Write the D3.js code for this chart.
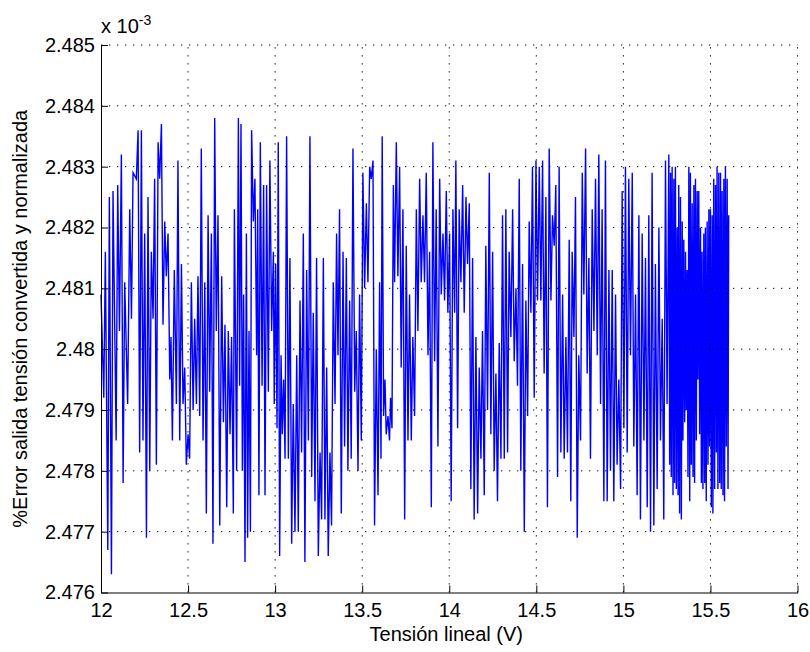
<!DOCTYPE html>
<html>
<head>
<meta charset="utf-8">
<script src="https://cdn.jsdelivr.net/npm/d3@7"></script>
<style>
  body { margin: 0; background: #ffffff; }
  text { font-family: "Liberation Sans", Arial, sans-serif; }
</style>
</head>
<body>
<div id="plot"></div>
<script>
var xTicks = [12, 12.5, 13, 13.5, 14, 14.5, 15, 15.5, 16];
var xTickLabels = ["12", "12.5", "13", "13.5", "14", "14.5", "15", "15.5", "16"];
var yTicks = [2.476, 2.477, 2.478, 2.479, 2.480, 2.481, 2.482, 2.483, 2.484, 2.485];
var yTickLabels = ["2.476", "2.477", "2.478", "2.479", "2.48", "2.481", "2.482", "2.483", "2.484", "2.485"];

// linear voltage (V) for each stroke
var tension = [
  12.000, 12.016, 12.025, 12.039, 12.048, 12.060, 12.069, 12.087, 12.096, 12.106,
  12.117, 12.127, 12.136, 12.153, 12.165, 12.175, 12.184, 12.203, 12.213, 12.222,
  12.232, 12.241, 12.251, 12.261, 12.270, 12.280, 12.289, 12.299, 12.308, 12.318,
  12.328, 12.337, 12.347, 12.356, 12.366, 12.375, 12.385, 12.395, 12.402, 12.410,
  12.421, 12.433, 12.442, 12.452, 12.462, 12.471, 12.481, 12.490, 12.500, 12.509,
  12.519, 12.529, 12.538, 12.548, 12.557, 12.567, 12.576, 12.586, 12.596, 12.605,
  12.615, 12.624, 12.634, 12.643, 12.653, 12.662, 12.672, 12.682,
  12.693, 12.703, 12.712, 12.722, 12.731, 12.741, 12.750, 12.760, 12.766, 12.779,
  12.789, 12.796, 12.804, 12.812, 12.819, 12.827, 12.835, 12.842, 12.850, 12.858,
  12.865, 12.875, 12.884, 12.894, 12.900, 12.907, 12.915, 12.925, 12.934, 12.942,
  12.951, 12.961, 12.970, 12.980, 12.990, 12.995, 13.003, 13.011, 13.018, 13.026,
  13.034, 13.041, 13.049, 13.057, 13.066, 13.076, 13.085, 13.095, 13.104, 13.114,
  13.124, 13.133, 13.143, 13.152, 13.162, 13.171, 13.181, 13.191, 13.200, 13.210,
  13.219, 13.229, 13.238, 13.248, 13.258, 13.267, 13.277, 13.286, 13.296, 13.305,
  13.315, 13.324, 13.334, 13.344, 13.353,
  13.361, 13.370, 13.380, 13.390, 13.399, 13.409, 13.418, 13.428, 13.437, 13.447,
  13.457, 13.466, 13.476, 13.485, 13.495, 13.504, 13.514, 13.524, 13.533, 13.543,
  13.552, 13.562, 13.571, 13.581, 13.591, 13.600, 13.608, 13.615, 13.623, 13.631,
  13.638, 13.648, 13.657, 13.663, 13.671, 13.679, 13.686, 13.696, 13.705, 13.715,
  13.724, 13.734, 13.744, 13.753, 13.763, 13.772, 13.782, 13.791, 13.801, 13.811,
  13.820, 13.830, 13.839, 13.849, 13.858, 13.868, 13.878, 13.887, 13.897, 13.906,
  13.916, 13.925, 13.935, 13.945, 13.954, 13.964, 13.973, 13.983, 13.992, 14.002,
  14.011, 14.021, 14.031,
  14.038, 14.048, 14.057, 14.067, 14.077, 14.086, 14.096, 14.105, 14.115, 14.124,
  14.134, 14.143, 14.153, 14.163, 14.172, 14.182, 14.191, 14.201, 14.210, 14.220,
  14.230, 14.239, 14.249, 14.258, 14.268, 14.277, 14.287, 14.297, 14.306, 14.316,
  14.325, 14.335, 14.344, 14.354, 14.364, 14.373, 14.383, 14.392, 14.402, 14.411,
  14.421, 14.431, 14.440, 14.450, 14.459, 14.469, 14.478, 14.488, 14.498, 14.507,
  14.517, 14.526, 14.536, 14.545, 14.555, 14.564, 14.574, 14.584, 14.593, 14.603,
  14.612, 14.622, 14.631, 14.641, 14.651, 14.660, 14.670, 14.679, 14.689, 14.698,
  14.706, 14.716, 14.725, 14.735, 14.744, 14.754, 14.764, 14.773, 14.783, 14.792,
  14.802, 14.811, 14.821, 14.831, 14.840, 14.850, 14.859, 14.869, 14.878, 14.888,
  14.897, 14.907, 14.917, 14.926, 14.936, 14.945, 14.955, 14.964, 14.974, 14.984,
  14.993, 15.003, 15.012, 15.022, 15.031, 15.041, 15.051, 15.060, 15.070, 15.079,
  15.089, 15.098, 15.108, 15.118, 15.127, 15.137, 15.146, 15.156, 15.165, 15.175,
  15.184, 15.194, 15.204, 15.213, 15.223, 15.232, 15.242, 15.251, 15.261,
  15.266, 15.271, 15.275, 15.280, 15.285, 15.290, 15.294, 15.299, 15.304, 15.309,
  15.314, 15.318, 15.323, 15.328, 15.333, 15.338, 15.342, 15.347, 15.352, 15.357,
  15.361, 15.366, 15.371, 15.376, 15.381, 15.385, 15.390, 15.395, 15.400, 15.405,
  15.409, 15.414, 15.419, 15.424, 15.428, 15.433, 15.438, 15.443, 15.448, 15.452,
  15.457, 15.462, 15.467, 15.471, 15.476, 15.481, 15.486, 15.491, 15.495, 15.500,
  15.505, 15.510, 15.514, 15.519, 15.524, 15.529, 15.534, 15.538, 15.543, 15.548,
  15.553, 15.558, 15.562, 15.567, 15.572, 15.577, 15.581, 15.586, 15.591, 15.596,
  15.601, 15.605
];

// top end of each stroke (x 10^-3)
var errHi = [
  2.4809, 2.4816, 2.4796, 2.4825, 2.4809, 2.4794, 2.4826, 2.4816, 2.4827, 2.4832,
  2.4817, 2.4808, 2.4811, 2.4814, 2.4823, 2.4828, 2.4829, 2.4831, 2.4836, 2.4809,
  2.4836, 2.4819, 2.4786, 2.4825, 2.4803, 2.4805, 2.4816, 2.4825, 2.4828, 2.4825,
  2.4834, 2.4837, 2.4828, 2.4812, 2.4821, 2.4819, 2.4812, 2.4802, 2.4795, 2.4791,
  2.4813, 2.4831, 2.4828, 2.4814, 2.4798, 2.4797, 2.4791, 2.4784, 2.4786, 2.4795,
  2.4811, 2.4800, 2.4805, 2.4801, 2.4812, 2.4833, 2.4816, 2.4811, 2.4794, 2.4809,
  2.4822, 2.4819, 2.4803, 2.4838, 2.4829, 2.4822, 2.4800, 2.4800,
  2.4812, 2.4804, 2.4788, 2.4788, 2.4803, 2.4802, 2.4787, 2.4786, 2.4823, 2.4838,
  2.4815, 2.4837, 2.4830, 2.4809, 2.4792, 2.4792, 2.4819, 2.4793, 2.4803, 2.4836,
  2.4833, 2.4828, 2.4821, 2.4823, 2.4805, 2.4799, 2.4834, 2.4827, 2.4794, 2.4802,
  2.4827, 2.4812, 2.4831, 2.4816, 2.4800, 2.4794, 2.4814, 2.4834, 2.4801, 2.4799,
  2.4796, 2.4795, 2.4792, 2.4822, 2.4835, 2.4815, 2.4776, 2.4776, 2.4791, 2.4799,
  2.4798, 2.4784, 2.4808, 2.4819, 2.4791, 2.4786, 2.4813, 2.4835, 2.4832, 2.4806,
  2.4795, 2.4815, 2.4803, 2.4783, 2.4779, 2.4804, 2.4815, 2.4797, 2.4774, 2.4783,
  2.4779, 2.4805, 2.4811, 2.4815, 2.4819,
  2.4823, 2.4823, 2.4805, 2.4816, 2.4815, 2.4797, 2.4791, 2.4808, 2.4833, 2.4821,
  2.4803, 2.4793, 2.4793, 2.4809, 2.4828, 2.4829, 2.4814, 2.4824, 2.4828, 2.4830,
  2.4831, 2.4829, 2.4800, 2.4797, 2.4786, 2.4811, 2.4835, 2.4812, 2.4795, 2.4794,
  2.4789, 2.4787, 2.4787, 2.4792, 2.4811, 2.4827, 2.4823, 2.4834, 2.4830, 2.4823,
  2.4823, 2.4804, 2.4804, 2.4817, 2.4809, 2.4795, 2.4791, 2.4802, 2.4803, 2.4823,
  2.4828, 2.4827, 2.4822, 2.4817, 2.4821, 2.4829, 2.4816, 2.4816, 2.4834, 2.4834,
  2.4823, 2.4806, 2.4817, 2.4828, 2.4819, 2.4817, 2.4826, 2.4817, 2.4819, 2.4819,
  2.4806, 2.4823, 2.4831,
  2.4831, 2.4823, 2.4823, 2.4819, 2.4827, 2.4816, 2.4825, 2.4824, 2.4814, 2.4796,
  2.4815, 2.4802, 2.4785, 2.4797, 2.4792, 2.4803, 2.4800, 2.4790, 2.4817, 2.4829,
  2.4807, 2.4816, 2.4796, 2.4796, 2.4786, 2.4790, 2.4801, 2.4822, 2.4802, 2.4813,
  2.4823, 2.4803, 2.4816, 2.4821, 2.4823, 2.4810, 2.4809, 2.4811, 2.4828, 2.4807,
  2.4814, 2.4792, 2.4808, 2.4808, 2.4821, 2.4818, 2.4830, 2.4831, 2.4831, 2.4823,
  2.4830, 2.4831, 2.4823, 2.4817, 2.4825, 2.4805, 2.4833, 2.4817, 2.4822, 2.4825,
  2.4827, 2.4830, 2.4804, 2.4809, 2.4805, 2.4802, 2.4800, 2.4800, 2.4818, 2.4802,
  2.4816, 2.4825, 2.4806, 2.4785, 2.4799, 2.4809, 2.4829, 2.4833, 2.4827, 2.4814,
  2.4815, 2.4803, 2.4823, 2.4822, 2.4828, 2.4832, 2.4823, 2.4823, 2.4801, 2.4817,
  2.4831, 2.4813, 2.4794, 2.4813, 2.4788, 2.4796, 2.4809, 2.4792, 2.4795, 2.4805,
  2.4826, 2.4830, 2.4829, 2.4826, 2.4828, 2.4829, 2.4804, 2.4807, 2.4809, 2.4805,
  2.4822, 2.4818, 2.4819, 2.4814, 2.4815, 2.4809, 2.4822, 2.4829, 2.4809, 2.4790,
  2.4814, 2.4820, 2.4806, 2.4805, 2.4797, 2.4795, 2.4831, 2.4812, 2.4832,
  2.4829, 2.4825, 2.4822, 2.4830, 2.4828, 2.4823, 2.4826, 2.4830, 2.4820, 2.4811,
  2.4824, 2.4827, 2.4825, 2.4823, 2.4821, 2.4819, 2.4817, 2.4818, 2.4815, 2.4816,
  2.4813, 2.4811, 2.4826, 2.4830, 2.4829, 2.4828, 2.4824, 2.4820, 2.4823, 2.4827,
  2.4827, 2.4828, 2.4826, 2.4824, 2.4825, 2.4826, 2.4820, 2.4815, 2.4816, 2.4816,
  2.4818, 2.4819, 2.4820, 2.4820, 2.4821, 2.4821, 2.4822, 2.4823, 2.4823, 2.4823,
  2.4822, 2.4821, 2.4825, 2.4828, 2.4827, 2.4827, 2.4829, 2.4830, 2.4829, 2.4829,
  2.4829, 2.4828, 2.4826, 2.4825, 2.4826, 2.4828, 2.4829, 2.4830, 2.4828, 2.4825,
  2.4822, 2.4818
];

// bottom end of each stroke (x 10^-3)
var errLo = [
  2.4803, 2.4792, 2.4767, 2.4779, 2.4779, 2.4763, 2.4785, 2.4798, 2.4803, 2.4805,
  2.4778, 2.4797, 2.4799, 2.4791, 2.4805, 2.4805, 2.4828, 2.4828, 2.4809, 2.4783,
  2.4809, 2.4785, 2.4769, 2.4786, 2.4780, 2.4790, 2.4805, 2.4806, 2.4805, 2.4781,
  2.4828, 2.4828, 2.4813, 2.4804, 2.4813, 2.4812, 2.4802, 2.4795, 2.4788, 2.4785,
  2.4791, 2.4813, 2.4795, 2.4785, 2.4791, 2.4791, 2.4784, 2.4781, 2.4782, 2.4784,
  2.4790, 2.4797, 2.4795, 2.4791, 2.4794, 2.4789, 2.4795, 2.4785, 2.4773, 2.4794,
  2.4809, 2.4793, 2.4768, 2.4803, 2.4803, 2.4803, 2.4779, 2.4771,
  2.4788, 2.4788, 2.4777, 2.4774, 2.4787, 2.4786, 2.4773, 2.4782, 2.4780, 2.4793,
  2.4794, 2.4815, 2.4809, 2.4780, 2.4765, 2.4780, 2.4769, 2.4770, 2.4770, 2.4803,
  2.4828, 2.4821, 2.4799, 2.4817, 2.4799, 2.4776, 2.4805, 2.4794, 2.4779, 2.4776,
  2.4795, 2.4793, 2.4811, 2.4803, 2.4791, 2.4791, 2.4787, 2.4794, 2.4775, 2.4766,
  2.4793, 2.4786, 2.4782, 2.4795, 2.4814, 2.4782, 2.4768, 2.4768, 2.4776, 2.4770,
  2.4783, 2.4770, 2.4783, 2.4791, 2.4765, 2.4772, 2.4785, 2.4805, 2.4805, 2.4779,
  2.4775, 2.4779, 2.4781, 2.4766, 2.4772, 2.4779, 2.4797, 2.4772, 2.4766, 2.4774,
  2.4771, 2.4783, 2.4791, 2.4799, 2.4813,
  2.4799, 2.4773, 2.4784, 2.4784, 2.4791, 2.4780, 2.4786, 2.4782, 2.4808, 2.4804,
  2.4793, 2.4784, 2.4780, 2.4785, 2.4809, 2.4814, 2.4810, 2.4811, 2.4825, 2.4828,
  2.4829, 2.4800, 2.4771, 2.4784, 2.4776, 2.4782, 2.4811, 2.4789, 2.4789, 2.4789,
  2.4786, 2.4786, 2.4785, 2.4787, 2.4791, 2.4811, 2.4813, 2.4813, 2.4812, 2.4797,
  2.4798, 2.4772, 2.4782, 2.4795, 2.4785, 2.4785, 2.4789, 2.4789, 2.4789, 2.4803,
  2.4821, 2.4814, 2.4811, 2.4811, 2.4814, 2.4799, 2.4799, 2.4804, 2.4774, 2.4799,
  2.4798, 2.4784, 2.4795, 2.4809, 2.4809, 2.4808, 2.4813, 2.4806, 2.4813, 2.4776,
  2.4775, 2.4806, 2.4809,
  2.4787, 2.4805, 2.4811, 2.4817, 2.4806, 2.4814, 2.4816, 2.4814, 2.4791, 2.4777,
  2.4780, 2.4772, 2.4773, 2.4785, 2.4782, 2.4786, 2.4787, 2.4776, 2.4790, 2.4808,
  2.4786, 2.4801, 2.4780, 2.4786, 2.4775, 2.4782, 2.4783, 2.4782, 2.4782, 2.4792,
  2.4800, 2.4783, 2.4802, 2.4809, 2.4810, 2.4798, 2.4802, 2.4794, 2.4780, 2.4786,
  2.4792, 2.4770, 2.4789, 2.4800, 2.4806, 2.4811, 2.4803, 2.4792, 2.4808, 2.4811,
  2.4808, 2.4811, 2.4807, 2.4796, 2.4774, 2.4777, 2.4811, 2.4808, 2.4817, 2.4822,
  2.4805, 2.4779, 2.4783, 2.4795, 2.4782, 2.4794, 2.4783, 2.4784, 2.4775, 2.4781,
  2.4802, 2.4806, 2.4779, 2.4769, 2.4785, 2.4794, 2.4810, 2.4809, 2.4796, 2.4808,
  2.4788, 2.4782, 2.4803, 2.4803, 2.4799, 2.4799, 2.4803, 2.4791, 2.4775, 2.4802,
  2.4775, 2.4782, 2.4783, 2.4780, 2.4780, 2.4775, 2.4781, 2.4786, 2.4784, 2.4777,
  2.4813, 2.4787, 2.4804, 2.4783, 2.4799, 2.4803, 2.4794, 2.4784, 2.4785, 2.4776,
  2.4785, 2.4772, 2.4785, 2.4791, 2.4774, 2.4781, 2.4774, 2.4770, 2.4771, 2.4774,
  2.4777, 2.4791, 2.4793, 2.4785, 2.4786, 2.4772, 2.4793, 2.4791, 2.4792,
  2.4781, 2.4800, 2.4779, 2.4776, 2.4783, 2.4793, 2.4778, 2.4777, 2.4786, 2.4791,
  2.4776, 2.4773, 2.4774, 2.4772, 2.4780, 2.4798, 2.4785, 2.4796, 2.4788, 2.4791,
  2.4790, 2.4802, 2.4779, 2.4775, 2.4777, 2.4781, 2.4782, 2.4780, 2.4779, 2.4778,
  2.4783, 2.4785, 2.4791, 2.4797, 2.4795, 2.4799, 2.4786, 2.4780, 2.4778, 2.4777,
  2.4782, 2.4787, 2.4778, 2.4775, 2.4778, 2.4781, 2.4788, 2.4794, 2.4784, 2.4775,
  2.4774, 2.4773, 2.4775, 2.4777, 2.4783, 2.4789, 2.4783, 2.4777, 2.4777, 2.4778,
  2.4778, 2.4777, 2.4777, 2.4777, 2.4776, 2.4775, 2.4780, 2.4785, 2.4784, 2.4783,
  2.4777, 2.4771
];

var svgWidth = 810;
var svgHeight = 652;

var chartMargin = {
  top: 45,
  right: 12.5,
  bottom: 59.5,
  left: 101
};

var width = svgWidth - chartMargin.left - chartMargin.right;
var height = svgHeight - chartMargin.top - chartMargin.bottom;

var svg = d3.select("#plot")
  .append("svg")
  .attr("width", svgWidth)
  .attr("height", svgHeight)
  .style("display", "block")
  .style("background", "#ffffff");

var chartGroup = svg.append("g")
  .attr("transform", `translate(${chartMargin.left}, ${chartMargin.top})`);

var xLinearScale = d3.scaleLinear()
  .domain([12, 16])
  .range([0, width]);

var yLinearScale = d3.scaleLinear()
  .domain([2.476, 2.485])
  .range([height, 0]);

// one vertex per stroke: the line alternates between the low and high ends
var n = d3.min([tension.length, errHi.length, errLo.length]);
var verts = [[tension[0], errHi[0]]];
for (var j = 1; j < n; j++) {
  var v = (j % 2 === 1)
    ? Math.min(errLo[j - 1], errLo[j])
    : Math.max(errHi[j - 1], errHi[j]);
  verts.push([tension[j], v]);
}

var signalLine = d3.line()
  .x(d => xLinearScale(d[0]))
  .y(d => yLinearScale(d[1]));

chartGroup.append("path")
  .datum(verts)
  .attr("fill", "none")
  .attr("stroke", "#0000ff")
  .attr("stroke-width", 1.4)
  .attr("stroke-linejoin", "miter")
  .attr("d", signalLine);

// dotted grid, drawn over the trace like the original
var gridGroup = chartGroup.append("g");

gridGroup.selectAll(".vgrid")
  .data(xTicks.slice(1))
  .enter()
  .append("line")
  .attr("class", "vgrid")
  .attr("x1", d => xLinearScale(d))
  .attr("x2", d => xLinearScale(d))
  .attr("y1", height)
  .attr("y2", 0);

gridGroup.selectAll(".hgrid")
  .data(yTicks.slice(1))
  .enter()
  .append("line")
  .attr("class", "hgrid")
  .attr("x1", 0)
  .attr("x2", width)
  .attr("y1", d => yLinearScale(d))
  .attr("y2", d => yLinearScale(d));

gridGroup.selectAll("line")
  .attr("stroke", "#000000")
  .attr("stroke-width", 1)
  .attr("stroke-dasharray", "1.3,6.7");

var bottomAxis = d3.axisBottom(xLinearScale)
  .tickValues(xTicks)
  .tickFormat((d, i) => xTickLabels[i])
  .tickSizeInner(-7)
  .tickSizeOuter(0)
  .tickPadding(10);

var leftAxis = d3.axisLeft(yLinearScale)
  .tickValues(yTicks)
  .tickFormat((d, i) => yTickLabels[i])
  .tickSizeInner(-7)
  .tickSizeOuter(0)
  .tickPadding(6);

var xAxis = chartGroup.append("g")
  .attr("transform", `translate(0, ${height})`)
  .call(bottomAxis);

var yAxis = chartGroup.append("g")
  .call(leftAxis);

[xAxis, yAxis].forEach(function(ax) {
  ax.attr("font-family", null).attr("font-size", null);
  ax.selectAll("path, line")
    .attr("stroke", "#000000")
    .attr("stroke-width", 1);
  ax.selectAll("text")
    .attr("fill", "#000000")
    .style("font-size", "20px");
});

var expLabel = svg.append("text")
  .attr("x", chartMargin.left)
  .attr("y", 33)
  .style("font-size", "20px")
  .attr("fill", "#000000")
  .text("x 10");

expLabel.append("tspan")
  .attr("dy", -8)
  .style("font-size", "14px")
  .text("-3");

svg.append("text")
  .attr("x", chartMargin.left + width / 2 - 3)
  .attr("y", 641)
  .attr("text-anchor", "middle")
  .style("font-size", "20px")
  .attr("fill", "#000000")
  .text("Tensión lineal (V)");

svg.append("text")
  .attr("transform", `translate(27, ${chartMargin.top + height / 2}) rotate(-90)`)
  .attr("text-anchor", "middle")
  .style("font-size", "20px")
  .attr("fill", "#000000")
  .text("%Error salida tensión convertida y normalizada");
</script>
</body>
</html>
